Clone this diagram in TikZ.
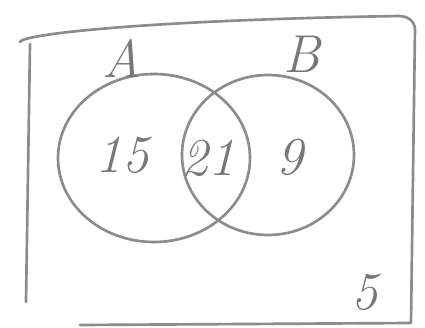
\documentclass[tikz,border=0pt]{standalone}
\usepackage{tikz}

\tikzset{every picture/.style={line width=0.75pt}}
\tikzset{pencil/.style={color={rgb, 255:red, 140; green, 140; blue, 140 }, line width=2, line cap=round, line join=round}}
\tikzset{hand/.style={color={rgb, 255:red, 120; green, 120; blue, 120 }, font=\fontsize{40}{40}\selectfont\itshape}}

\begin{document}
\begin{tikzpicture}[x=0.75pt,y=0.75pt,yscale=-1,xscale=1]
\path (0,0) rectangle (425,328); %set diagram size

%Frame: top edge
\draw [pencil] (20,42) .. controls (22,34) and (150,20) .. (400,16) .. controls (410,17) and (414,22) .. (415,28) ;
%Frame: left edge
\draw [pencil] (30,44) -- (26,302) ;
%Frame: right edge
\draw [pencil] (415,28) -- (411,322) ;
%Frame: bottom edge
\draw [pencil] (80,325) -- (411,323) ;

%Shape: Circle A
\draw [pencil] (154,158) ellipse (96 and 84) ;
%Shape: Circle B
\draw [pencil] (268,155) ellipse (86 and 80) ;

% Text Node
\node [hand] (labA) at (122,58) {A};
% Text Node
\node [hand] (labB) at (302,54) {B};
% Text Node
\node [hand] (onlyA) at (122,155) {15};
% Text Node
\node [hand] (both) at (208,158) {21};
% Text Node
\node [hand] (onlyB) at (290,157) {9};
% Text Node
\node [hand] (none) at (365,292) {5};

\end{tikzpicture}
\end{document}
